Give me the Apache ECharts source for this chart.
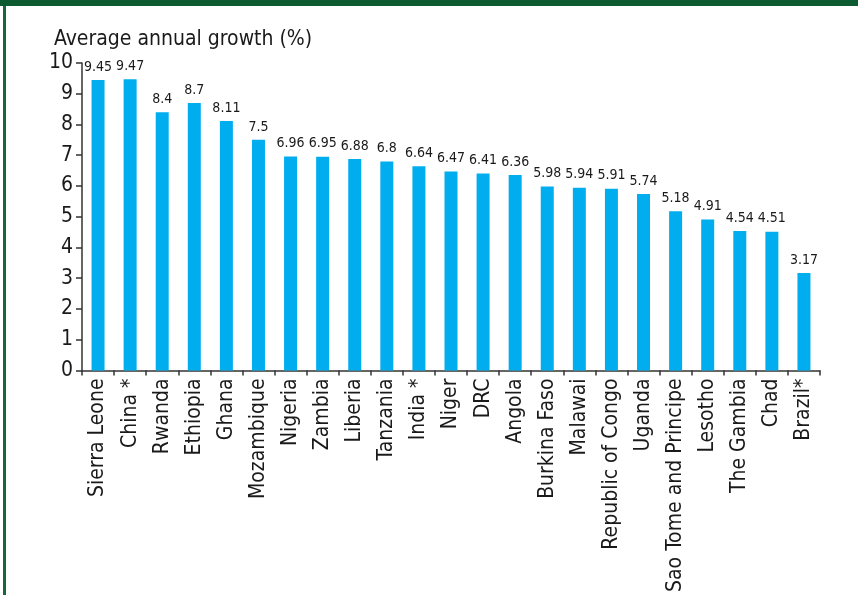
<!DOCTYPE html>
<html>
<head>
<meta charset="utf-8">
<script src="https://cdn.jsdelivr.net/npm/echarts@6/dist/echarts.min.js"></script>
<style>
  html, body { margin: 0; padding: 0; background: #fff; }
  #chart { width: 858px; height: 595px; }
</style>
</head>
<body>
<div id="chart"></div>
<script>
const countries = ['Sierra Leone', 'China *', 'Rwanda', 'Ethiopia', 'Ghana', 'Mozambique', 'Nigeria', 'Zambia',
  'Liberia', 'Tanzania', 'India *', 'Niger', 'DRC', 'Angola', 'Burkina Faso', 'Malawai', 'Republic of Congo',
  'Uganda', 'Sao Tome and Principe', 'Lesotho', 'The Gambia', 'Chad', 'Brazil*'];
const growth = [9.45, 9.47, 8.4, 8.7, 8.11, 7.5, 6.96, 6.95, 6.88, 6.8, 6.64, 6.47, 6.41, 6.36, 5.98, 5.94, 5.91,
  5.74, 5.18, 4.91, 4.54, 4.51, 3.17];

const font = '"DejaVu Sans Condensed", "Liberation Sans Narrow", "Noto Sans", sans-serif';
const ink = '#1a1a1a';

const chart = echarts.init(document.getElementById('chart'));
chart.setOption({
  backgroundColor: '#ffffff',
  animation: false,
  textStyle: { fontFamily: font },
  graphic: [
    { type: 'rect', shape: { x: 0, y: 0, width: 858, height: 6 }, style: { fill: '#0b5a30' } },
    { type: 'rect', shape: { x: 3, y: 6, width: 3, height: 589 }, style: { fill: '#16683a' } }
  ],
  title: {
    text: 'Average annual growth (%)',
    left: 49,
    top: 24,
    textStyle: { fontFamily: font, fontSize: 21, fontWeight: 'normal', color: ink }
  },
  grid: { left: 82, right: 38, top: 63, bottom: 223, containLabel: false },
  xAxis: {
    type: 'category',
    data: countries,
    boundaryGap: true,
    axisLine: { lineStyle: { color: '#333', width: 1.5 } },
    axisTick: { show: true, length: 5, alignWithLabel: false, lineStyle: { color: '#333', width: 1.5 } },
    axisLabel: { rotate: 90, interval: 0, margin: 8, fontSize: 21, color: ink, fontFamily: font }
  },
  yAxis: {
    type: 'value',
    min: 0,
    max: 10,
    interval: 1,
    splitLine: { show: false },
    axisLine: { show: true, lineStyle: { color: '#333', width: 1.5 } },
    axisTick: { show: true, length: 6, lineStyle: { color: '#333', width: 1.5 } },
    axisLabel: { fontSize: 21, color: ink, margin: 9, fontFamily: font }
  },
  series: [{
    type: 'bar',
    data: growth,
    barWidth: 13,
    itemStyle: { color: '#00aeef' },
    label: {
      show: true,
      position: 'top',
      distance: 6,
      fontSize: 14,
      color: ink,
      fontFamily: font
    }
  }]
});
</script>
</body>
</html>
